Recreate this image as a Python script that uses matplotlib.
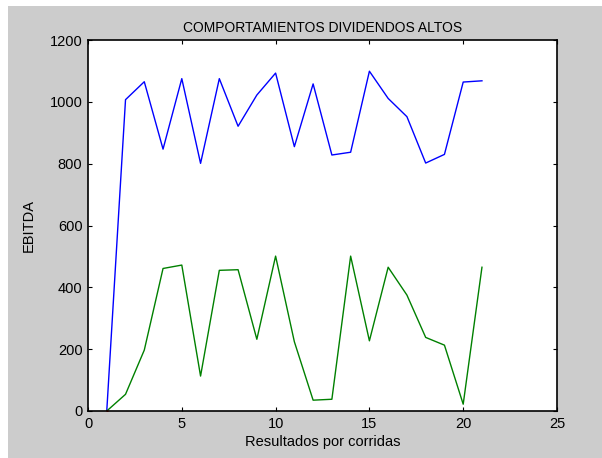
import numpy as np
import matplotlib
matplotlib.use("Agg")
import matplotlib.pyplot as plt
from matplotlib.patches import Rectangle

plt.rcParams['font.family'] = ['Liberation Sans', 'DejaVu Sans']

# corridas 1..21
corridas = np.arange(1, 22)
ebitda_alto = [0, 1007, 1065, 847, 1075, 801, 1075, 921, 1022, 1093, 855,
               1058, 828, 837, 1099, 1011, 952, 802, 830, 1064, 1068]
ebitda_bajo = [0, 54, 197, 461, 472, 113, 455, 457, 232, 501, 224,
               35, 38, 501, 227, 465, 375, 238, 213, 22, 465]
punto_inicial = [0]

fig = plt.figure(figsize=(6.02, 4.58), dpi=100)
fig.patch.set_facecolor('white')
# fondo gris estilo matlab
fig.patches.append(Rectangle((8 / 602, 0), 1 - 8 / 602, 1 - 6 / 458,
                             transform=fig.transFigure, facecolor='#cccccc',
                             edgecolor='none', zorder=-10))

ax = fig.add_axes([88 / 602, 1 - 411 / 458, (557 - 88) / 602, (411 - 40) / 458])
ax.set_facecolor('white')

ax.plot(corridas, ebitda_alto, color='#0000ff', lw=1.0)
ax.plot(corridas, ebitda_bajo, color='#008000', lw=1.0)
ax.plot(corridas[:1], punto_inicial, 's', color='red', ms=2, mec='none')

ax.set_xlim(0, 25)
ax.set_ylim(0, 1200)
ax.set_xticks(np.arange(0, 26, 5))
ax.set_yticks(np.arange(0, 1201, 200))
ax.tick_params(direction='in', top=True, right=True, length=3, width=0.8,
               labelsize=10.5, colors='black', pad=4)
for s in ax.spines.values():
    s.set_linewidth(1.2)

ax.set_title('COMPORTAMIENTOS DIVIDENDOS ALTOS', fontsize=10, pad=6)
ax.set_xlabel('Resultados por corridas', fontsize=10.5, labelpad=3)
ax.set_ylabel('EBITDA', fontsize=10.5, labelpad=10)

fig.savefig('out.png', dpi=100)
